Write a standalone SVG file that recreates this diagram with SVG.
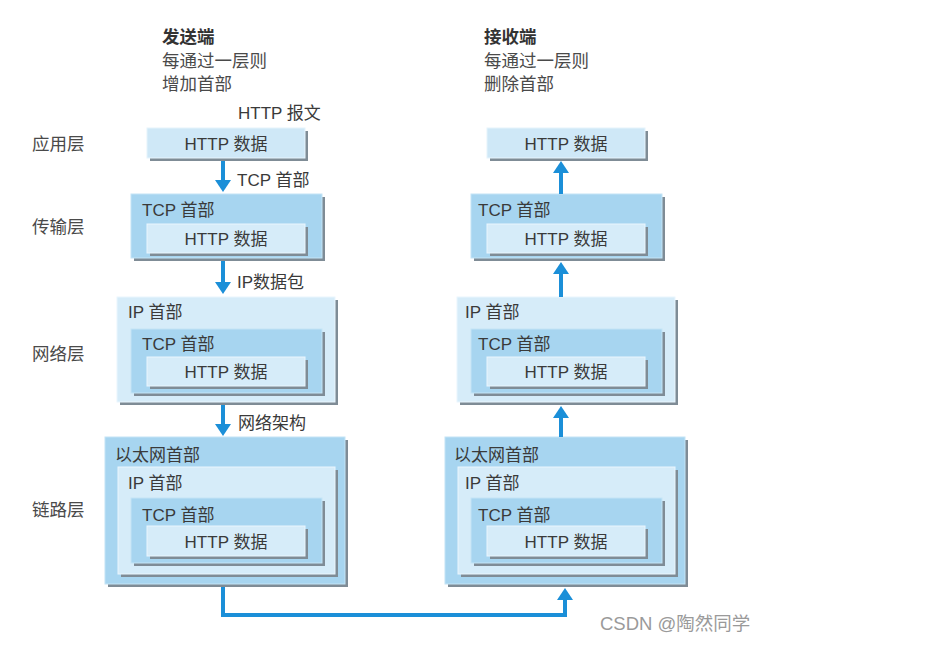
<svg xmlns="http://www.w3.org/2000/svg" width="933" height="662" viewBox="0 0 933 662">
<style>
text{font-family:"Liberation Sans","Noto Sans CJK SC",sans-serif;font-size:17px;fill:#3a3a3a;}
.h{font-size:17.5px;fill:#4a4a4a;}
.b{font-weight:bold;fill:#333;}
.lb{font-size:17.5px;fill:#4a4a4a;}
.c{text-anchor:middle;dominant-baseline:central;}
.sh{fill:#7f8c96;}
.dk{fill:#a7d5f0;stroke:#c4e4f6;stroke-width:1;}
.lt{fill:#d6ecf9;stroke:#eaf6fd;stroke-width:1;}
.ap{fill:#cfe8f7;stroke:#e6f4fc;stroke-width:1;}
.wm{fill:#9a9a9a;font-size:18.5px;}
.cn{fill:none;stroke:#1b8fd8;stroke-width:4;}
</style>
<defs>
<marker id="ah" viewBox="0 0 12 16" refX="2" refY="8" markerWidth="12" markerHeight="16" markerUnits="userSpaceOnUse" orient="auto">
<path d="M0,0 L12,8 L0,16 z" fill="#1b8fd8"/>
</marker>
</defs>
<rect width="933" height="662" fill="#fff"/>

<g id="headers">
<text class="h b" x="162" y="43">发送端</text>
<text class="h" x="162" y="67">每通过一层则</text>
<text class="h" x="162" y="90">增加首部</text>
<text x="238" y="119">HTTP 报文</text>
<text class="h b" x="484" y="43">接收端</text>
<text class="h" x="484" y="67">每通过一层则</text>
<text class="h" x="484" y="90">删除首部</text>
</g>

<g id="layer-labels">
<text class="lb" x="32" y="150">应用层</text>
<text class="lb" x="32" y="233">传输层</text>
<text class="lb" x="32" y="360">网络层</text>
<text class="lb" x="32" y="516">链路层</text>
</g>

<g id="send-app">
<rect class="sh" x="150" y="131" width="158" height="30"/>
<rect class="ap" x="147" y="128" width="158" height="30"/>
<text class="c" x="226" y="144">HTTP 数据</text>
</g>

<g id="send-transport">
<rect class="sh" x="134" y="197" width="191" height="64"/>
<rect class="dk" x="131" y="194" width="191" height="64"/>
<text x="142" y="216">TCP 首部</text>
<rect class="sh" x="150" y="227" width="158" height="29"/>
<rect class="lt" x="147" y="224" width="158" height="29"/>
<text class="c" x="226" y="239">HTTP 数据</text>
</g>

<g id="send-network">
<rect class="sh" x="120" y="300" width="218" height="105"/>
<rect class="lt" x="117" y="297" width="218" height="105"/>
<text x="128" y="318">IP 首部</text>
<rect class="sh" x="134" y="332" width="191" height="64"/>
<rect class="dk" x="131" y="329" width="191" height="64"/>
<text x="142" y="350">TCP 首部</text>
<rect class="sh" x="150" y="360" width="158" height="29"/>
<rect class="lt" x="147" y="357" width="158" height="29"/>
<text class="c" x="226" y="372">HTTP 数据</text>
</g>

<g id="send-link">
<rect class="sh" x="108" y="440" width="240" height="147"/>
<rect class="dk" x="105" y="437" width="240" height="147"/>
<text x="115" y="461">以太网首部</text>
<rect class="sh" x="121" y="470" width="217" height="107"/>
<rect class="lt" x="118" y="467" width="217" height="107"/>
<text x="128" y="489">IP 首部</text>
<rect class="sh" x="134" y="501" width="191" height="65"/>
<rect class="dk" x="131" y="498" width="191" height="65"/>
<text x="142" y="521">TCP 首部</text>
<rect class="sh" x="150" y="529" width="158" height="30"/>
<rect class="lt" x="147" y="526" width="158" height="30"/>
<text class="c" x="226" y="542">HTTP 数据</text>
</g>

<g id="recv-app">
<rect class="sh" x="490" y="131" width="158" height="30"/>
<rect class="ap" x="487" y="128" width="158" height="30"/>
<text class="c" x="566" y="144">HTTP 数据</text>
</g>

<g id="recv-transport">
<rect class="sh" x="474" y="197" width="191" height="64"/>
<rect class="dk" x="471" y="194" width="191" height="64"/>
<text x="478" y="216">TCP 首部</text>
<rect class="sh" x="490" y="227" width="158" height="29"/>
<rect class="lt" x="487" y="224" width="158" height="29"/>
<text class="c" x="566" y="239">HTTP 数据</text>
</g>

<g id="recv-network">
<rect class="sh" x="460" y="300" width="218" height="105"/>
<rect class="lt" x="457" y="297" width="218" height="105"/>
<text x="465" y="318">IP 首部</text>
<rect class="sh" x="474" y="332" width="191" height="64"/>
<rect class="dk" x="471" y="329" width="191" height="64"/>
<text x="478" y="350">TCP 首部</text>
<rect class="sh" x="490" y="360" width="158" height="29"/>
<rect class="lt" x="487" y="357" width="158" height="29"/>
<text class="c" x="566" y="372">HTTP 数据</text>
</g>

<g id="recv-link">
<rect class="sh" x="448" y="440" width="240" height="147"/>
<rect class="dk" x="445" y="437" width="240" height="147"/>
<text x="454" y="461">以太网首部</text>
<rect class="sh" x="461" y="470" width="217" height="107"/>
<rect class="lt" x="458" y="467" width="217" height="107"/>
<text x="465" y="489">IP 首部</text>
<rect class="sh" x="474" y="501" width="191" height="65"/>
<rect class="dk" x="471" y="498" width="191" height="65"/>
<text x="478" y="521">TCP 首部</text>
<rect class="sh" x="490" y="529" width="158" height="30"/>
<rect class="lt" x="487" y="526" width="158" height="30"/>
<text class="c" x="566" y="542">HTTP 数据</text>
</g>

<g id="connectors">
<line class="cn" x1="223" y1="161" x2="223" y2="182" marker-end="url(#ah)"/>
<line class="cn" x1="223" y1="261" x2="223" y2="284" marker-end="url(#ah)"/>
<line class="cn" x1="223" y1="405" x2="223" y2="426" marker-end="url(#ah)"/>
<line class="cn" x1="561" y1="194" x2="561" y2="171" marker-end="url(#ah)"/>
<line class="cn" x1="561" y1="297" x2="561" y2="272" marker-end="url(#ah)"/>
<line class="cn" x1="561" y1="437" x2="561" y2="416" marker-end="url(#ah)"/>
<path class="cn" d="M223,587 V615 H565 V598" marker-end="url(#ah)"/>
<text x="237" y="186">TCP 首部</text>
<text x="237" y="288">IP数据包</text>
<text x="238" y="429">网络架构</text>
</g>

<text class="wm" x="600" y="630">CSDN @陶然同学</text>
</svg>
